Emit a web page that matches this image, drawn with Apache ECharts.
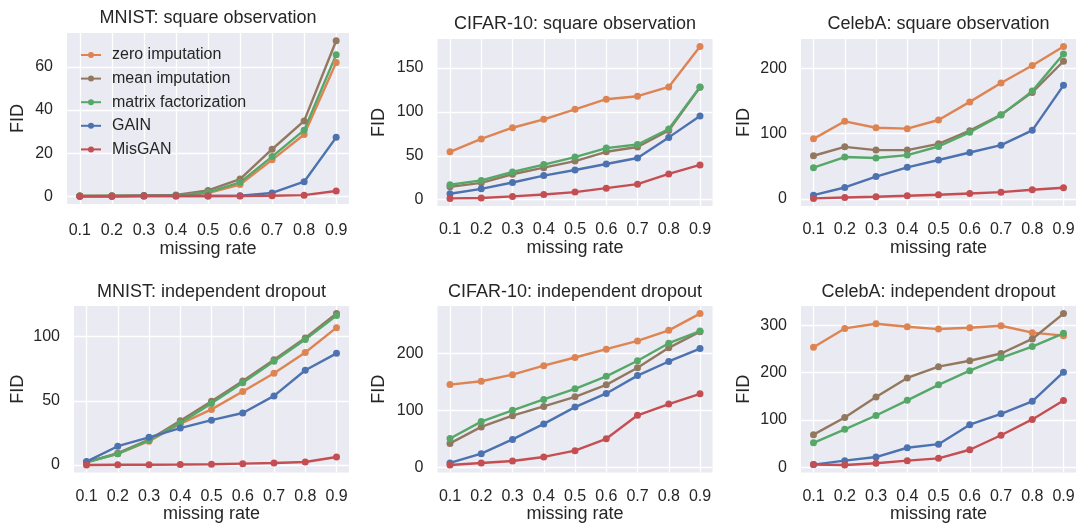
<!DOCTYPE html>
<html>
<head>
<meta charset="utf-8">
<title>FID vs missing rate</title>
<script src="https://cdn.jsdelivr.net/npm/echarts@6/dist/echarts.min.js"></script>
<style>
  html, body { margin: 0; padding: 0; background: #fff; }
  #chart { width: 1078px; height: 525px; }
</style>
</head>
<body>
<div id="chart"></div>
<script>
// x values and series names
const missingRates = [0.1, 0.2, 0.3, 0.4, 0.5, 0.6, 0.7, 0.8, 0.9];
const methodNames = ['zero imputation', 'mean imputation', 'matrix factorization', 'GAIN', 'MisGAN'];
const methodColors = ['#DD8452', '#937860', '#55A868', '#4C72B0', '#C44E52'];

// FID per method, same order as methodNames
const mnistSquare = [
  [0.3, 0.3, 0.4, 0.5, 1.7, 5.6, 17, 28.7, 62],
  [0.3, 0.4, 0.5, 0.8, 2.9, 8.1, 21.9, 35, 72],
  [0.3, 0.3, 0.4, 0.5, 2.0, 6.6, 18.5, 30.7, 65.6],
  [0.2, 0.2, 0.3, 0.3, 0.3, 0.4, 1.7, 6.9, 27.4],
  [0.2, 0.2, 0.3, 0.3, 0.3, 0.3, 0.4, 0.7, 2.6]
];
const cifarSquare = [
  [54.6, 69.3, 82, 91.6, 103, 114.5, 117.9, 128.5, 174.4],
  [14.7, 19.2, 29, 36.5, 44, 54.6, 60, 78.8, 128],
  [17, 22, 31.6, 40, 48.6, 58.8, 62.9, 80.6, 128.5],
  [6.8, 12.4, 19.6, 27.5, 33.9, 40.7, 47.5, 71, 95.3],
  [1.5, 1.9, 3.8, 6, 8.7, 13.2, 17.7, 29.4, 39.6]
];
const celebaSquare = [
  [92, 118.8, 109, 107.6, 120.8, 148.5, 177.3, 204, 233],
  [66.2, 79.8, 74.8, 74.8, 84.4, 104.5, 128.8, 163, 210.6],
  [48, 64.2, 62.7, 67.2, 80.3, 102, 128.3, 165, 221.8],
  [6, 17.7, 34.4, 48.5, 59.7, 71.2, 82.4, 105, 173.8],
  [1, 2.5, 3.6, 5, 6.6, 8.6, 10.6, 14.2, 17.2]
];
const mnistDropout = [
  [2.3, 8.7, 18.5, 32, 43.3, 57.2, 71.5, 87.7, 107],
  [2, 9.2, 19.7, 34.4, 49.7, 65.4, 82, 99, 118],
  [2, 8.7, 19.2, 32.8, 48, 64, 80.8, 97.7, 116.4],
  [2.6, 14.6, 21.5, 28.7, 34.9, 40.5, 53.8, 73.8, 87],
  [0, 0.1, 0.2, 0.3, 0.5, 1, 1.5, 2.3, 6.2]
];
const cifarDropout = [
  [145.5, 151.3, 162.9, 178.6, 193, 207.5, 222, 240.6, 270],
  [42.3, 71.3, 91, 107.2, 124, 145, 175, 209.9, 238.3],
  [51, 80.6, 100.3, 119.4, 138, 160, 187.2, 218, 239.4],
  [8.1, 24.3, 49.3, 76.5, 106, 129.9, 161.2, 186, 208.7],
  [4.6, 8.1, 11.6, 18.6, 29.6, 50.4, 91.6, 111.3, 129.3]
];
const celebaDropout = [
  [254, 293.7, 303.5, 297.2, 292.3, 295.1, 299.3, 284.7, 278.4],
  [69, 105.3, 148.6, 189, 212.8, 225.3, 240.7, 271.4, 325.1],
  [51.6, 80.2, 109.5, 141.6, 174.4, 204.4, 231.6, 255.3, 283.3],
  [5.6, 14, 21.6, 41.2, 48.8, 90, 113, 139.5, 201],
  [5.6, 4.9, 8.4, 14, 18.8, 37, 67.7, 101.2, 141]
];

// y tick labels per panel
const mnistSquareTicks = [0, 20, 40, 60];
const cifarSquareTicks = [0, 50, 100, 150];
const celebaSquareTicks = [0, 100, 200];
const mnistDropoutTicks = [0, 50, 100];
const cifarDropoutTicks = [0, 100, 200];
const celebaDropoutTicks = [0, 100, 200, 300];

const panels = [
  { title: 'MNIST: square observation', data: mnistSquare, ticks: mnistSquareTicks,
    box: { left: 67, top: 33, width: 282, height: 171 }, titleTop: 9, yGap: 40, xMargin: 19, xGap: 35 },
  { title: 'CIFAR-10: square observation', data: cifarSquare, ticks: cifarSquareTicks,
    box: { left: 437.5, top: 39, width: 275, height: 167 }, titleTop: 15, yGap: 49, xMargin: 16, xGap: 32 },
  { title: 'CelebA: square observation', data: celebaSquare, ticks: celebaSquareTicks,
    box: { left: 801, top: 39, width: 275, height: 167 }, titleTop: 15, yGap: 48, xMargin: 16, xGap: 32 },
  { title: 'MNIST: independent dropout', data: mnistDropout, ticks: mnistDropoutTicks,
    box: { left: 74, top: 306, width: 275, height: 166.5 }, titleTop: 283, yGap: 47, xMargin: 16, xGap: 32 },
  { title: 'CIFAR-10: independent dropout', data: cifarDropout, ticks: cifarDropoutTicks,
    box: { left: 437.5, top: 306, width: 275, height: 166.5 }, titleTop: 283, yGap: 49, xMargin: 16, xGap: 32 },
  { title: 'CelebA: independent dropout', data: celebaDropout, ticks: celebaDropoutTicks,
    box: { left: 801, top: 306, width: 275, height: 166.5 }, titleTop: 283, yGap: 48, xMargin: 16, xGap: 32 }
];

const FONT = '"Liberation Sans", Arial, sans-serif';
const INK = '#262626';

// matplotlib-like 5% autoscale margins
function padded(values) {
  const lo = Math.min(...values), hi = Math.max(...values);
  const m = (hi - lo) * 0.05;
  return [lo - m, hi + m];
}

const xRange = padded(missingRates);
const grids = [], xAxes = [], yAxes = [], titles = [], series = [];

panels.forEach((p, i) => {
  grids.push(Object.assign({
    show: true, backgroundColor: '#EAEAF2', borderWidth: 0, containLabel: false
  }, p.box));

  titles.push({
    text: p.title, left: p.box.left + p.box.width / 2, top: p.titleTop,
    textAlign: 'center', padding: 0,
    textStyle: { fontFamily: FONT, fontSize: 18, fontWeight: 'normal', color: INK }
  });

  xAxes.push({
    gridIndex: i, type: 'value', min: xRange[0], max: xRange[1],
    name: 'missing rate', nameLocation: 'middle', nameGap: p.xGap,
    nameTextStyle: { fontFamily: FONT, fontSize: 18, color: INK },
    axisLine: { show: false },
    axisTick: { show: false, customValues: missingRates },
    axisLabel: {
      customValues: missingRates, margin: p.xMargin,
      fontFamily: FONT, fontSize: 16, color: INK,
      formatter: v => v.toFixed(1)
    },
    splitLine: { show: true, lineStyle: { color: '#fff', width: 1.3 } }
  });

  const yRange = padded(p.data.flat());
  yAxes.push({
    gridIndex: i, type: 'value', min: yRange[0], max: yRange[1],
    name: 'FID', nameLocation: 'middle', nameGap: p.yGap,
    nameTextStyle: { fontFamily: FONT, fontSize: 18, color: INK },
    axisLine: { show: false },
    axisTick: { show: false, customValues: p.ticks },
    axisLabel: {
      customValues: p.ticks, margin: 14,
      fontFamily: FONT, fontSize: 16, color: INK
    },
    splitLine: { show: true, lineStyle: { color: '#fff', width: 1.3 } }
  });

  p.data.forEach((vals, k) => {
    series.push({
      name: methodNames[k], type: 'line',
      xAxisIndex: i, yAxisIndex: i,
      data: missingRates.map((x, j) => [x, vals[j]]),
      symbol: 'circle', symbolSize: 7,
      color: methodColors[k],
      lineStyle: { width: 2.4 },
      silent: true, animation: false
    });
  });
});

const chart = echarts.init(document.getElementById('chart'));
chart.setOption({
  animation: false,
  title: titles,
  legend: {
    data: methodNames, orient: 'vertical',
    left: 80, top: 47, padding: 0,
    itemWidth: 20, itemHeight: 7.5, itemGap: 7.6,
    textStyle: { fontFamily: FONT, fontSize: 16, color: INK, lineHeight: 16, padding: [0, 0, 0, 6] }
  },
  grid: grids,
  xAxis: xAxes,
  yAxis: yAxes,
  series: series
});
</script>
</body>
</html>
